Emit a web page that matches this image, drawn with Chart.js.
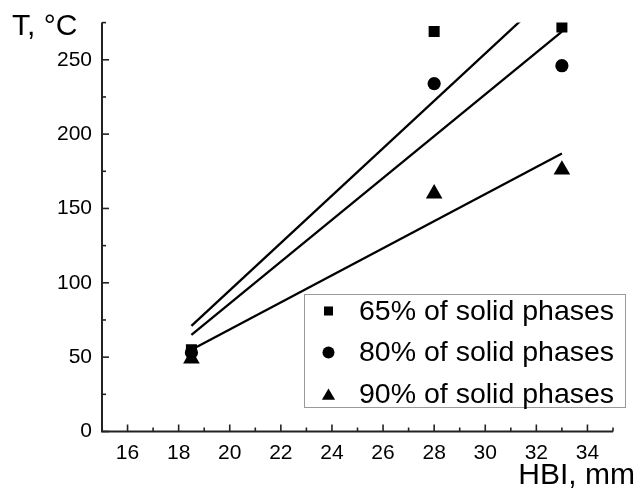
<!DOCTYPE html>
<html>
<head>
<meta charset="utf-8">
<script src="https://cdn.jsdelivr.net/npm/chart.js@4/dist/chart.umd.min.js"></script>
<style>
  html, body { margin: 0; padding: 0; background: #ffffff; }
  #wrap { width: 642px; height: 491px; }
</style>
</head>
<body>
<div id="wrap"><canvas id="c" width="642" height="491"></canvas></div>
<script>
// ---- data ----
const xTicks = [16, 18, 20, 22, 24, 26, 28, 30, 32, 34];
const yTicks = [0, 50, 100, 150, 200, 250];
const seriesLabels = ['65% of solid phases', '80% of solid phases', '90% of solid phases'];
const hbi = [18.5, 28, 33];
const t65 = [55, 269, 272];
const t80 = [53, 234, 246];
const t90 = [49, 160, 176];
const fitX = [18.5, 33];
const fit65 = [71, 302];
const fit80 = [65, 269];
const fit90 = [55, 187];
const xTitle = 'HBI, mm';
const yTitle = 'T, °C';

const FONT = '"Liberation Sans", Arial, sans-serif';
const styles = ['rect', 'circle', 'triangle'];
const radii = [7.8, 6.6, 9.6];
const legendRadii = [6.4, 6, 7.6];

function pts(xs, ys) { return xs.map((x, i) => ({ x: x, y: ys[i] })); }

const pointSets = [t65, t80, t90];
const fitSets = [fit65, fit80, fit90];
const datasets = [];
pointSets.forEach((ys, i) => {
  datasets.push({
    label: seriesLabels[i],
    data: pts(hbi, ys),
    showLine: false,
    pointStyle: styles[i],
    pointRadius: radii[i],
    pointHoverRadius: radii[i],
    backgroundColor: '#000',
    borderColor: '#000',
    pointBorderWidth: 0,
    order: 1
  });
});
fitSets.forEach((ys, i) => {
  datasets.push({
    label: seriesLabels[i] + ' fit',
    data: pts(fitX, ys),
    showLine: true,
    pointRadius: 0,
    borderColor: '#000',
    borderWidth: 2.3,
    fill: false,
    order: 2
  });
});

const axisPlugin = {
  id: 'axisPlugin',
  beforeDatasetsDraw(chart) {
    const ctx = chart.ctx, a = chart.chartArea;
    const xs = chart.scales.x, ys = chart.scales.y;
    ctx.save();
    ctx.strokeStyle = '#222';
    ctx.lineWidth = 2;
    ctx.lineCap = 'butt';
    ctx.beginPath();
    ctx.moveTo(a.left, a.top);
    ctx.lineTo(a.left, a.bottom);
    ctx.lineTo(a.right, a.bottom);
    ctx.stroke();
    ctx.lineWidth = 1.6;
    const xStep = xTicks[1] - xTicks[0];
    const yStep = yTicks[1] - yTicks[0];
    xTicks.forEach(v => {
      const p = xs.getPixelForValue(v);
      ctx.beginPath(); ctx.moveTo(p, a.bottom); ctx.lineTo(p, a.bottom - 7); ctx.stroke();
    });
    for (let v = xTicks[0] - xStep / 2; v <= xs.max + 1e-9; v += xStep) {
      if (v < xs.min) continue;
      const p = xs.getPixelForValue(v);
      ctx.beginPath(); ctx.moveTo(p, a.bottom); ctx.lineTo(p, a.bottom - 4); ctx.stroke();
    }
    yTicks.forEach(v => {
      const p = ys.getPixelForValue(v);
      ctx.beginPath(); ctx.moveTo(a.left, p); ctx.lineTo(a.left + 7, p); ctx.stroke();
    });
    for (let v = yTicks[0] + yStep / 2; v <= ys.max + 1e-9; v += yStep) {
      const p = ys.getPixelForValue(v);
      ctx.beginPath(); ctx.moveTo(a.left, p); ctx.lineTo(a.left + 4, p); ctx.stroke();
    }
    ctx.restore();
  },
  afterDraw(chart) {
    const ctx = chart.ctx;
    ctx.save();
    ctx.fillStyle = '#000';
    ctx.font = '30px ' + FONT;
    ctx.textBaseline = 'alphabetic';
    ctx.textAlign = 'left';
    ctx.fillText(yTitle, 12, 35);
    ctx.font = '30px ' + FONT;
    ctx.textAlign = 'right';
    ctx.fillText(xTitle, 635, 484);
    // legend box
    const bx = 304, by = 294, bw = 321, bh = 113;
    ctx.fillStyle = '#fff';
    ctx.fillRect(bx, by, bw, bh);
    ctx.strokeStyle = '#999';
    ctx.lineWidth = 1;
    ctx.strokeRect(bx + 0.5, by + 0.5, bw, bh);
    const rows = [311, 352.5, 394];
    ctx.font = '28.5px ' + FONT;
    ctx.textAlign = 'left';
    ctx.textBaseline = 'middle';
    seriesLabels.forEach((lab, i) => {
      ctx.fillStyle = '#000';
      ctx.strokeStyle = '#000';
      Chart.helpers.drawPoint(ctx, { pointStyle: styles[i], radius: legendRadii[i], rotation: 0, borderWidth: 0 }, 328.5, rows[i] + (i === 2 ? 2 : 0));
      ctx.fillStyle = '#000';
      ctx.fillText(lab, 359, rows[i] + 1);
    });
    ctx.restore();
  }
};

new Chart(document.getElementById('c'), {
  type: 'scatter',
  data: { datasets: datasets },
  options: {
    responsive: false,
    animation: false,
    devicePixelRatio: 1,
    layout: { padding: { top: 20, right: 29, left: 0, bottom: 0 } },
    plugins: { legend: { display: false }, tooltip: { enabled: false } },
    scales: {
      x: {
        type: 'linear',
        position: 'bottom',
        min: 15,
        max: 35,
        afterBuildTicks: s => { s.ticks = xTicks.map(v => ({ value: v })); },
        afterFit: s => { s.height = 59.5; },
        grid: { display: false, drawTicks: false },
        border: { display: false },
        ticks: { color: '#000', font: { family: FONT, size: 21 }, padding: 9, maxRotation: 0, autoSkip: false }
      },
      y: {
        type: 'linear',
        position: 'left',
        min: 0,
        max: 275,
        afterBuildTicks: s => { s.ticks = yTicks.map(v => ({ value: v })); },
        afterFit: s => { s.width = 102; },
        grid: { display: false, drawTicks: false },
        border: { display: false },
        ticks: { color: '#000', font: { family: FONT, size: 21 }, padding: 10, autoSkip: false }
      }
    }
  },
  plugins: [axisPlugin]
});
</script>
</body>
</html>
